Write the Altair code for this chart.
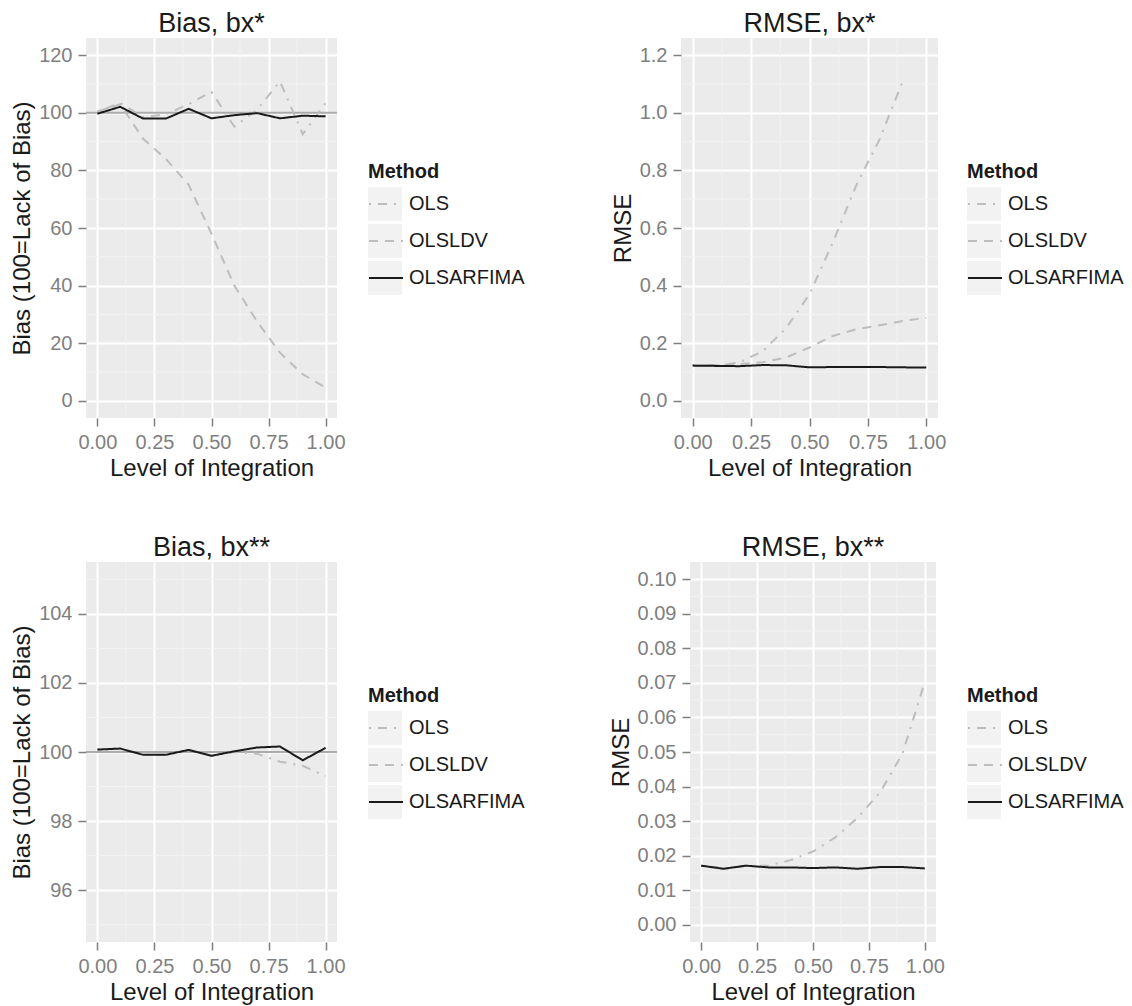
import altair as alt
import pandas as pd

FONT = "Liberation Sans"

x_levels = [0.0, 0.1, 0.2, 0.3, 0.4, 0.5, 0.6, 0.7, 0.8, 0.9, 1.0]
x_major = [0.0, 0.25, 0.5, 0.75, 1.0]
x_minor = [0.125, 0.375, 0.625, 0.875]
methods = ["OLS", "OLSLDV", "OLSARFIMA"]
key_slots = ["k1", "k2", "k3"]
method_colors = ["#bdbdbd", "#bdbdbd", "#1a1a1a"]
method_dashes = [[2, 7, 9, 7], [9, 7], [1, 0]]
ref_line = [100]

# Panel 1: Bias, bx*
bias1_ols = [100.5, 103.4, 98.5, 99.5, 103.0, 107.3, 95.2, 101.1, 110.9, 92.6, 103.4]
bias1_olsldv = [100.5, 103.0, 91.0, 84.0, 75.0, 58.0, 40.0, 27.5, 16.7, 9.2, 4.6]
bias1_arfima = [99.7, 102.1, 98.0, 98.0, 101.4, 98.1, 99.2, 99.9, 98.1, 99.0, 98.8]

# Panel 2: RMSE, bx*  (OLS at 1.0 lies above the axis limit)
rmse1_ols = [0.122, 0.122, 0.133, 0.172, 0.252, 0.370, 0.550, 0.748, 0.908, 1.112]
rmse1_olsldv = [0.122, 0.124, 0.127, 0.134, 0.150, 0.185, 0.225, 0.248, 0.262, 0.277, 0.288]
rmse1_arfima = [0.122, 0.121, 0.120, 0.124, 0.123, 0.116, 0.117, 0.117, 0.117, 0.116, 0.115]

# Panel 3: Bias, bx**  (OLSLDV outside the axis limits)
bias2_ols = [100.07, 100.10, 99.92, 99.92, 100.06, 99.89, 100.00, 99.95, 99.72, 99.60, 99.30]
bias2_arfima = [100.07, 100.10, 99.92, 99.92, 100.06, 99.89, 100.02, 100.13, 100.16, 99.76, 100.12]

# Panel 4: RMSE, bx**  (OLSLDV outside the axis limits)
rmse2_ols = [0.0171, 0.0163, 0.0170, 0.0171, 0.0187, 0.0212, 0.0253, 0.0310, 0.0383, 0.0495, 0.0703]
rmse2_arfima = [0.0171, 0.0162, 0.0171, 0.0166, 0.0166, 0.0164, 0.0166, 0.0162, 0.0167, 0.0167, 0.0163]

LEG_Y = 124
SYM = 1156
ENTRY_H = 34
ROWPAD = 3
TITLEPAD = 5
LEG_TITLE_SIZE = 20


def make_df(series):
    rows = []
    for method, vals in series:
        for xv, yv in zip(x_levels, vals):
            rows.append({"x": xv, "y": yv, "Method": method})
    return pd.DataFrame(rows)


def panel(title, ytitle, df, ydomain, ymajor, yminor, yfmt, width, legend_x, ref=False):
    xscale = alt.Scale(domain=[-0.05, 1.05], nice=False, zero=False)
    yscale = alt.Scale(domain=ydomain, nice=False, zero=False)
    x_axis = alt.Axis(values=x_major, format=".2f", title="Level of Integration")
    y_axis = alt.Axis(values=ymajor, format=yfmt, title=ytitle)

    # legend key backgrounds (grey squares, drawn first, no text)
    key_leg = alt.Legend(
        title=None, orient="none", legendX=legend_x,
        legendY=LEG_Y + LEG_TITLE_SIZE + TITLEPAD,
        labelFontSize=20, labelFont=FONT, labelExpr="''",
        symbolType="square", symbolSize=SYM, symbolFillColor="#F2F2F2",
        symbolStrokeWidth=0, symbolOpacity=1, clipHeight=ENTRY_H,
        rowPadding=ROWPAD, labelOffset=5,
    )
    keys = alt.Chart(pd.DataFrame({"Key": key_slots, "kx": [0.5] * 3, "ky": [ydomain[0]] * 3})).mark_point(
        size=0, filled=True, color="#F2F2F2", opacity=0
    ).encode(
        x=alt.X("kx:Q", scale=xscale, axis=x_axis),
        y=alt.Y("ky:Q", scale=yscale, axis=y_axis),
        shape=alt.Shape("Key:N", scale=alt.Scale(domain=key_slots, range=["square"] * 3), legend=key_leg),
    )

    minor_h = alt.Chart(pd.DataFrame({"v": yminor})).mark_rule(
        color="#F3F3F3", strokeWidth=1
    ).encode(y=alt.Y("v:Q", scale=yscale, axis=y_axis))
    minor_v = alt.Chart(pd.DataFrame({"v": x_minor})).mark_rule(
        color="#F3F3F3", strokeWidth=1
    ).encode(x=alt.X("v:Q", scale=xscale, axis=x_axis))
    leg = alt.Legend(
        title="Method", orient="none", legendX=legend_x, legendY=LEG_Y,
        titleFontSize=LEG_TITLE_SIZE, titleFont=FONT, titleFontWeight="bold", titleColor="#1a1a1a",
        labelFontSize=20, labelFont=FONT, labelColor="#1a1a1a",
        symbolType="stroke", symbolSize=SYM, symbolStrokeWidth=2, clipHeight=ENTRY_H,
        rowPadding=ROWPAD, titlePadding=TITLEPAD, labelOffset=5,
    )
    lines = alt.Chart(df).mark_line(strokeWidth=2, clip=True).encode(
        x=alt.X("x:Q", scale=xscale, axis=x_axis),
        y=alt.Y("y:Q", scale=yscale, axis=y_axis),
        color=alt.Color("Method:N", scale=alt.Scale(domain=methods, range=method_colors), legend=leg),
        strokeDash=alt.StrokeDash("Method:N", scale=alt.Scale(domain=methods, range=method_dashes), legend=leg),
        order=alt.Order("x:Q"),
    )
    layers = [keys, minor_h, minor_v]
    if ref:
        hline = alt.Chart(pd.DataFrame({"r": ref_line})).mark_rule(
            color="#ababab", strokeWidth=2
        ).encode(y=alt.Y("r:Q", scale=yscale, axis=y_axis))
        layers.append(hline)
    layers.append(lines)
    return alt.layer(*layers).properties(
        width=width, height=380,
        title=alt.TitleParams(title, fontSize=27, font=FONT, fontWeight="normal",
                              color="#1a1a1a", anchor="middle", frame="group", offset=0),
    )


p1 = panel("Bias, bx*", "Bias (100=Lack of Bias)",
           make_df([("OLS", bias1_ols), ("OLSLDV", bias1_olsldv), ("OLSARFIMA", bias1_arfima)]),
           [-6, 126], [0, 20, 40, 60, 80, 100, 120], [10, 30, 50, 70, 90, 110], "d",
           251, 282, ref=True)
p2 = panel("RMSE, bx*", "RMSE",
           make_df([("OLS", rmse1_ols), ("OLSLDV", rmse1_olsldv), ("OLSARFIMA", rmse1_arfima)]),
           [-0.06, 1.26], [0, 0.2, 0.4, 0.6, 0.8, 1.0, 1.2], [0.1, 0.3, 0.5, 0.7, 0.9, 1.1], ".1f",
           257, 286)
p3 = panel("Bias, bx**", "Bias (100=Lack of Bias)",
           make_df([("OLS", bias2_ols), ("OLSARFIMA", bias2_arfima)]),
           [94.5, 105.5], [96, 98, 100, 102, 104], [95, 97, 99, 101, 103, 105], "d",
           251, 282, ref=True)
p4 = panel("RMSE, bx**", "RMSE",
           make_df([("OLS", rmse2_ols), ("OLSARFIMA", rmse2_arfima)]),
           [-0.005, 0.105], [0, 0.01, 0.02, 0.03, 0.04, 0.05, 0.06, 0.07, 0.08, 0.09, 0.10],
           [0.005, 0.015, 0.025, 0.035, 0.045, 0.055, 0.065, 0.075, 0.085, 0.095], ".2f",
           246, 277)

indep = dict(x="independent", y="independent", color="independent",
             strokeDash="independent", shape="independent")
indep_leg = dict(color="independent", strokeDash="independent", shape="independent")
row1 = alt.hconcat(p1, p2, spacing=86).resolve_scale(**indep).resolve_legend(**indep_leg)
row2 = alt.hconcat(p3, p4, spacing=84).resolve_scale(**indep).resolve_legend(**indep_leg)

chart = alt.vconcat(row1, row2, spacing=53).resolve_scale(**indep).resolve_legend(
    **indep_leg
).properties(
    padding={"left": 2, "top": 1, "right": 0, "bottom": 2},
    background="#ffffff",
).configure_view(
    fill="#EBEBEB", stroke=None
).configure_axis(
    labelFont=FONT, labelFontSize=20, labelColor="#7f7f7f",
    titleFont=FONT, titleFontSize=24, titleColor="#1a1a1a", titleFontWeight="normal",
    tickColor="#7f7f7f", tickSize=8, tickWidth=1.5, labelPadding=6, titlePadding=4,
    domain=False, grid=True, gridColor="#ffffff", gridWidth=2,
)

chart.save("out.html", embed_options={"renderer": "svg", "actions": False})
